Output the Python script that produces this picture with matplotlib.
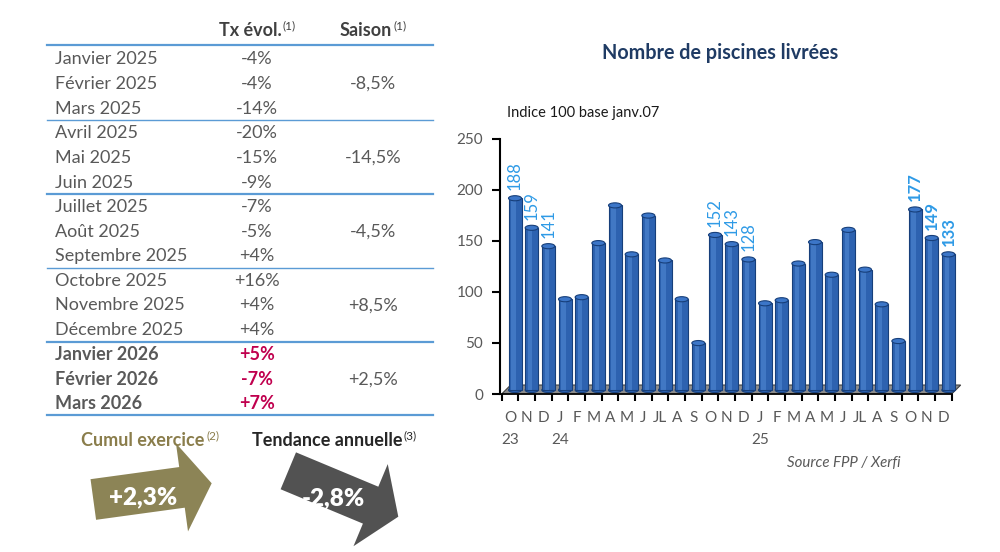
import matplotlib
matplotlib.use('Agg')
import matplotlib.pyplot as plt
import numpy as np
from matplotlib.patches import FancyArrow, Polygon, Ellipse
from matplotlib.transforms import ScaledTranslation

plt.rcParams['font.family'] = ['Lato', 'DejaVu Sans']

# ---------------- data ----------------
month_labels = ['O', 'N', 'D', 'J', 'F', 'M', 'A', 'M', 'J', 'JL', 'A', 'S',
                'O', 'N', 'D', 'J', 'F', 'M', 'A', 'M', 'J', 'JL', 'A', 'S',
                'O', 'N', 'D']
year_labels = {0: '23', 3: '24', 15: '25'}
values = [188, 159, 141, 89, 91, 144, 181, 133, 171, 127, 89, 46,
          152, 143, 128, 85, 88, 124, 145, 113, 157, 118, 84, 48,
          177, 149, 133]
labelled = [0, 1, 2, 12, 13, 14, 24, 25, 26]
bold_labels = [24, 25, 26]
y_ticks = [0, 50, 100, 150, 200, 250]

table_rows = ['Janvier 2025', 'Février 2025', 'Mars 2025',
              'Avril 2025', 'Mai 2025', 'Juin 2025',
              'Juillet 2025', 'Août 2025', 'Septembre 2025',
              'Octobre 2025', 'Novembre 2025', 'Décembre 2025',
              'Janvier 2026', 'Février 2026', 'Mars 2026']
tx_evol = ['-4%', '-4%', '-14%', '-20%', '-15%', '-9%', '-7%', '-5%', '+4%',
           '+16%', '+4%', '+4%', '+5%', '-7%', '+7%']
saison = ['-8,5%', '-14,5%', '-4,5%', '+8,5%', '+2,5%']
cumul_exercice = '+2,3%'
tendance_annuelle = '-2,8%'

# ---------------- figure ----------------
fig = plt.figure(figsize=(10, 5.52), dpi=100)
bg = fig.add_axes([0, 0, 1, 1])
bg.set_xlim(0, 1000)
bg.set_ylim(552, 0)
bg.axis('off')

GRAY = '#595959'
LINE = '#5B9BD5'
RED = '#C0004E'
FS = 13
SUP = 8.5


def sup(parent, txt, color):
    bg.annotate(txt, xy=(1, 1.0), xycoords=parent, xytext=(1.5, -3),
                textcoords='offset pixels', ha='left', va='center',
                fontsize=SUP, color=color)


# header
h1 = bg.text(250, 31, 'Tx évol.', ha='center', va='center', fontsize=FS,
             fontweight='bold', color='#404040')
sup(h1, '(1)', '#404040')
h2 = bg.text(366, 31, 'Saison', ha='center', va='center', fontsize=FS,
             fontweight='bold', color='#404040')
sup(h2, '(1)', '#404040')

row_y0, row_dy = 59.5, 24.6
for i, (name, tx) in enumerate(zip(table_rows, tx_evol)):
    y = row_y0 + row_dy * i
    bold = i >= 12
    bg.text(55, y, name, ha='left', va='center', fontsize=FS, color=GRAY,
            fontweight='bold' if bold else 'normal')
    bg.text(257, y, tx, ha='center', va='center', fontsize=FS,
            color=RED if bold else GRAY,
            fontweight='bold' if bold else 'normal')
for g, s in enumerate(saison):
    y = row_y0 + row_dy * (3 * g + 1)
    bg.text(373, y, s, ha='center', va='center', fontsize=FS, color=GRAY)

# separator lines
bg.plot([47, 433], [45, 45], color=LINE, lw=1.6)
for g in range(5):
    y = 58.6 + row_dy * (3 * g + 2) + 12.3
    lw = 1.0 if g in (0, 2) else 1.6
    bg.plot([47, 433], [y, y], color=LINE, lw=lw)

# bottom indicators
c1 = bg.text(143, 441, 'Cumul exercice', ha='center', va='center',
             fontsize=FS, fontweight='bold', color='#8A7D4B')
sup(c1, '(2)', '#8A7D4B')
c2 = bg.text(327, 441, 'Tendance annuelle', ha='center', va='center',
             fontsize=FS, fontweight='bold', color='#262626')
sup(c2, '(3)', '#262626')

a1 = FancyArrow(93.3, 499.5, 118.4, -16.2, width=41, head_width=89,
                head_length=30, length_includes_head=True,
                color='#8C8456', lw=0, zorder=2)
bg.add_patch(a1)
a2 = FancyArrow(288.3, 470.8, 110, 45.9, width=40, head_width=89,
                head_length=30, length_includes_head=True,
                color='#525252', lw=0, zorder=2)
bg.add_patch(a2)
bg.text(143, 497, cumul_exercice, ha='center', va='center', fontsize=17.5,
        fontweight='heavy', color='white', zorder=3)
bg.text(333, 498, tendance_annuelle, ha='center', va='center', fontsize=17.5,
        fontweight='heavy', color='white', zorder=3)

# ---------------- bar chart ----------------
ax = fig.add_axes([0.5, 1 - 394 / 552, 0.4517, 255 / 552])
ax.set_xlim(-0.6, 26.5)
ax.set_ylim(0, 250)
ax.patch.set_alpha(0)

x = np.arange(len(values))
shift = ax.transData + ScaledTranslation(0.05, 0.04, fig.dpi_scale_trans)

# floor (3-D base)
dx_f, dy_f = 0.54, 8.8
floor = Polygon([[-0.5, 0], [26.5, 0], [26.5 + dx_f, dy_f], [-0.5 + dx_f, dy_f]],
                closed=True, facecolor='#8C8C8C', edgecolor='#3F3F3F', lw=0.8,
                clip_on=False, zorder=1)
ax.add_patch(floor)

bw = 0.78
ax.bar(x, values, width=bw, color='#2D62B0', edgecolor='#173F7A', lw=0.8,
       transform=shift, zorder=3, clip_on=False)
ax.bar(x - 0.1, values, width=0.26, color='#5A93DD', alpha=0.45, lw=0,
       transform=shift, zorder=4, clip_on=False)
for xi, v in zip(x, values):
    ax.add_patch(Ellipse((xi, v), bw, 5, facecolor='#3C76C8', edgecolor='#173F7A',
                         lw=0.8, transform=shift, zorder=5, clip_on=False))
    ax.add_patch(Ellipse((xi, 0), bw, 5, facecolor='#2D62B0', edgecolor='#173F7A',
                         lw=0.8, transform=shift, zorder=2, clip_on=False))

for i in labelled:
    ax.annotate(str(values[i]), xy=(x[i], values[i]), xycoords=shift,
                xytext=(0, 8), textcoords='offset pixels', rotation=90,
                ha='center', va='bottom', fontsize=12, color='#2E9AE6',
                fontweight='bold' if i in bold_labels else 'normal',
                zorder=6)

for s in ['top', 'right']:
    ax.spines[s].set_visible(False)
ax.spines['left'].set_linewidth(1.5)
ax.spines['bottom'].set_linewidth(1.2)
ax.spines['left'].set_bounds(0, 250)

ax.set_yticks(y_ticks)
ax.set_yticklabels([str(t) for t in y_ticks])
ax.tick_params(axis='y', length=6, width=1.5, pad=6, labelsize=11,
               labelcolor=GRAY, color='black')

tick_labels = [m + ('\n' + year_labels[i] if i in year_labels else '')
               for i, m in enumerate(month_labels)]
ax.set_xticks(x)
ax.set_xticklabels(tick_labels, linespacing=1.8)
ax.set_xticks(np.arange(-0.5, 27, 1), minor=True)
ax.tick_params(axis='x', which='major', length=0, pad=12, labelsize=11,
               labelcolor=GRAY)
ax.tick_params(axis='x', which='minor', length=5, width=1.5, color='black',
               direction='out')

fig.text(0.72, 1 - 53 / 552, 'Nombre de piscines livrées', ha='center',
         va='center', fontsize=14.2, fontweight='bold', color='#1F3B64')
fig.text(0.507, 1 - 113 / 552, 'Indice 100 base janv.07', ha='left',
         va='center', fontsize=10.5, color='#1A1A1A')
fig.text(0.787, 1 - 462.7 / 552, 'Source FPP / Xerfi', ha='left',
         va='center', fontsize=10.8, style='italic', color=GRAY)

fig.savefig('out.png', dpi=100)
